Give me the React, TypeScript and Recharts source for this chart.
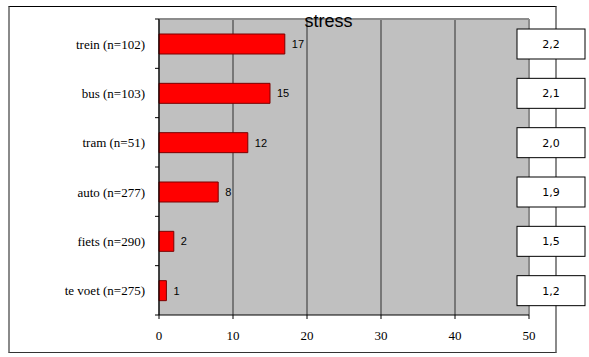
import React from 'react';
import { BarChart, Bar, XAxis, YAxis, CartesianGrid, LabelList } from 'recharts';

const categories = ['trein (n=102)', 'bus (n=103)', 'tram (n=51)', 'auto (n=277)', 'fiets (n=290)', 'te voet (n=275)'];
const stressValues = [17, 15, 12, 8, 2, 1];
const stressScores = [2.2, 2.1, 2.0, 1.9, 1.5, 1.2];
const xTicks = [0, 10, 20, 30, 40, 50];
const title = 'stress';

const data = categories.map((name, i) => ({ name, value: stressValues[i], score: stressScores[i] }));

const W = 589;
const H = 357;
const M = { top: 19, right: 60, bottom: 12, left: 0 };
const X_AXIS_H = 30;
const Y_AXIS_W = 159;
const PLOT_H = H - M.top - M.bottom - X_AXIS_H;
const BAND = PLOT_H / categories.length;
const TICK_SIZE = 4;
const TICK_MARGIN = 10;

const YTick = (props: any) => {
  const { x, y, payload, index } = props;
  const axisX = x + TICK_SIZE + TICK_MARGIN;
  const top = y - BAND / 2;
  const bottom = y + BAND / 2;
  return (
    <g>
      <line x1={axisX - 4} x2={axisX} y1={top} y2={top} stroke="#000" />
      {index === categories.length - 1 && (
        <line x1={axisX - 4} x2={axisX} y1={bottom} y2={bottom} stroke="#000" />
      )}
      <text x={x} y={y + 5} textAnchor="end" fontFamily="'Liberation Serif', 'Times New Roman', serif" fontSize={13} fill="#000">
        {payload.value}
      </text>
    </g>
  );
};

const ScoreBox = (props: any) => {
  const { viewBox, value } = props;
  if (!viewBox) return null;
  const cy = viewBox.y + viewBox.height / 2;
  const bx = 517;
  const bw = 68;
  const bh = 30;
  return (
    <g>
      <rect x={bx} y={cy - bh / 2} width={bw} height={bh} fill="#fff" stroke="#000" strokeWidth={1} />
      <text x={bx + bw / 2} y={cy + 4} textAnchor="middle" fontFamily="'DejaVu Sans', Verdana, sans-serif" fontSize={11} fill="#000">
        {Number(value).toFixed(1).replace('.', ',')}
      </text>
    </g>
  );
};

export default function App() {
  return (
    <div style={{ position: 'absolute', left: 0, top: 0, width: W, height: H, background: '#fff' }}>
      <div
        style={{
          position: 'absolute',
          left: 8,
          top: 6,
          width: 545,
          height: 345,
          borderTop: '1px solid #000',
          borderBottom: '1px solid #333',
          borderLeft: '2px solid #8a8a8a',
          borderRight: '2px solid #8a8a8a',
        }}
      />
      <div style={{ position: 'absolute', left: 0, top: 0 }}>
        <BarChart width={W} height={H} data={data} layout="vertical" margin={M} barCategoryGap={0}>
          <CartesianGrid fill="#C0C0C0" stroke="#5f5f5f" strokeWidth={1.5} horizontal={false} />
          <CartesianGrid
            fill="none"
            stroke="#8c8c8c"
            strokeWidth={2}
            horizontalPoints={[M.top]}
            verticalPoints={[W - M.right]}
          />
          <XAxis
            type="number"
            domain={[0, 50]}
            ticks={xTicks}
            height={X_AXIS_H}
            axisLine={{ stroke: '#000' }}
            tickLine={{ stroke: '#000' }}
            tickSize={4}
            tickMargin={12}
            tick={{ fill: '#000', fontSize: 13, fontFamily: "'Liberation Serif', 'Times New Roman', serif" }}
            interval={0}
          />
          <YAxis
            type="category"
            dataKey="name"
            width={Y_AXIS_W}
            axisLine={{ stroke: '#000' }}
            tickLine={false}
            tickSize={TICK_SIZE}
            tickMargin={TICK_MARGIN}
            tick={<YTick />}
            interval={0}
          />
          <Bar dataKey="value" fill="#FF0000" stroke="#7a0000" strokeWidth={1} barSize={20} isAnimationActive={false}>
            <LabelList
              dataKey="value"
              position="right"
              offset={7}
              fill="#000"
              fontSize={11}
              fontFamily="'Liberation Sans', Arial, sans-serif"
            />
            <LabelList dataKey="score" content={<ScoreBox />} />
          </Bar>
        </BarChart>
      </div>
      <svg width={W} height={H} style={{ position: 'absolute', left: 0, top: 0, pointerEvents: 'none' }}>
        <text x={328.5} y={27} textAnchor="middle" fontFamily="'Liberation Sans', Arial, sans-serif" fontSize={18} fill="#000">
          {title}
        </text>
      </svg>
    </div>
  );
}
